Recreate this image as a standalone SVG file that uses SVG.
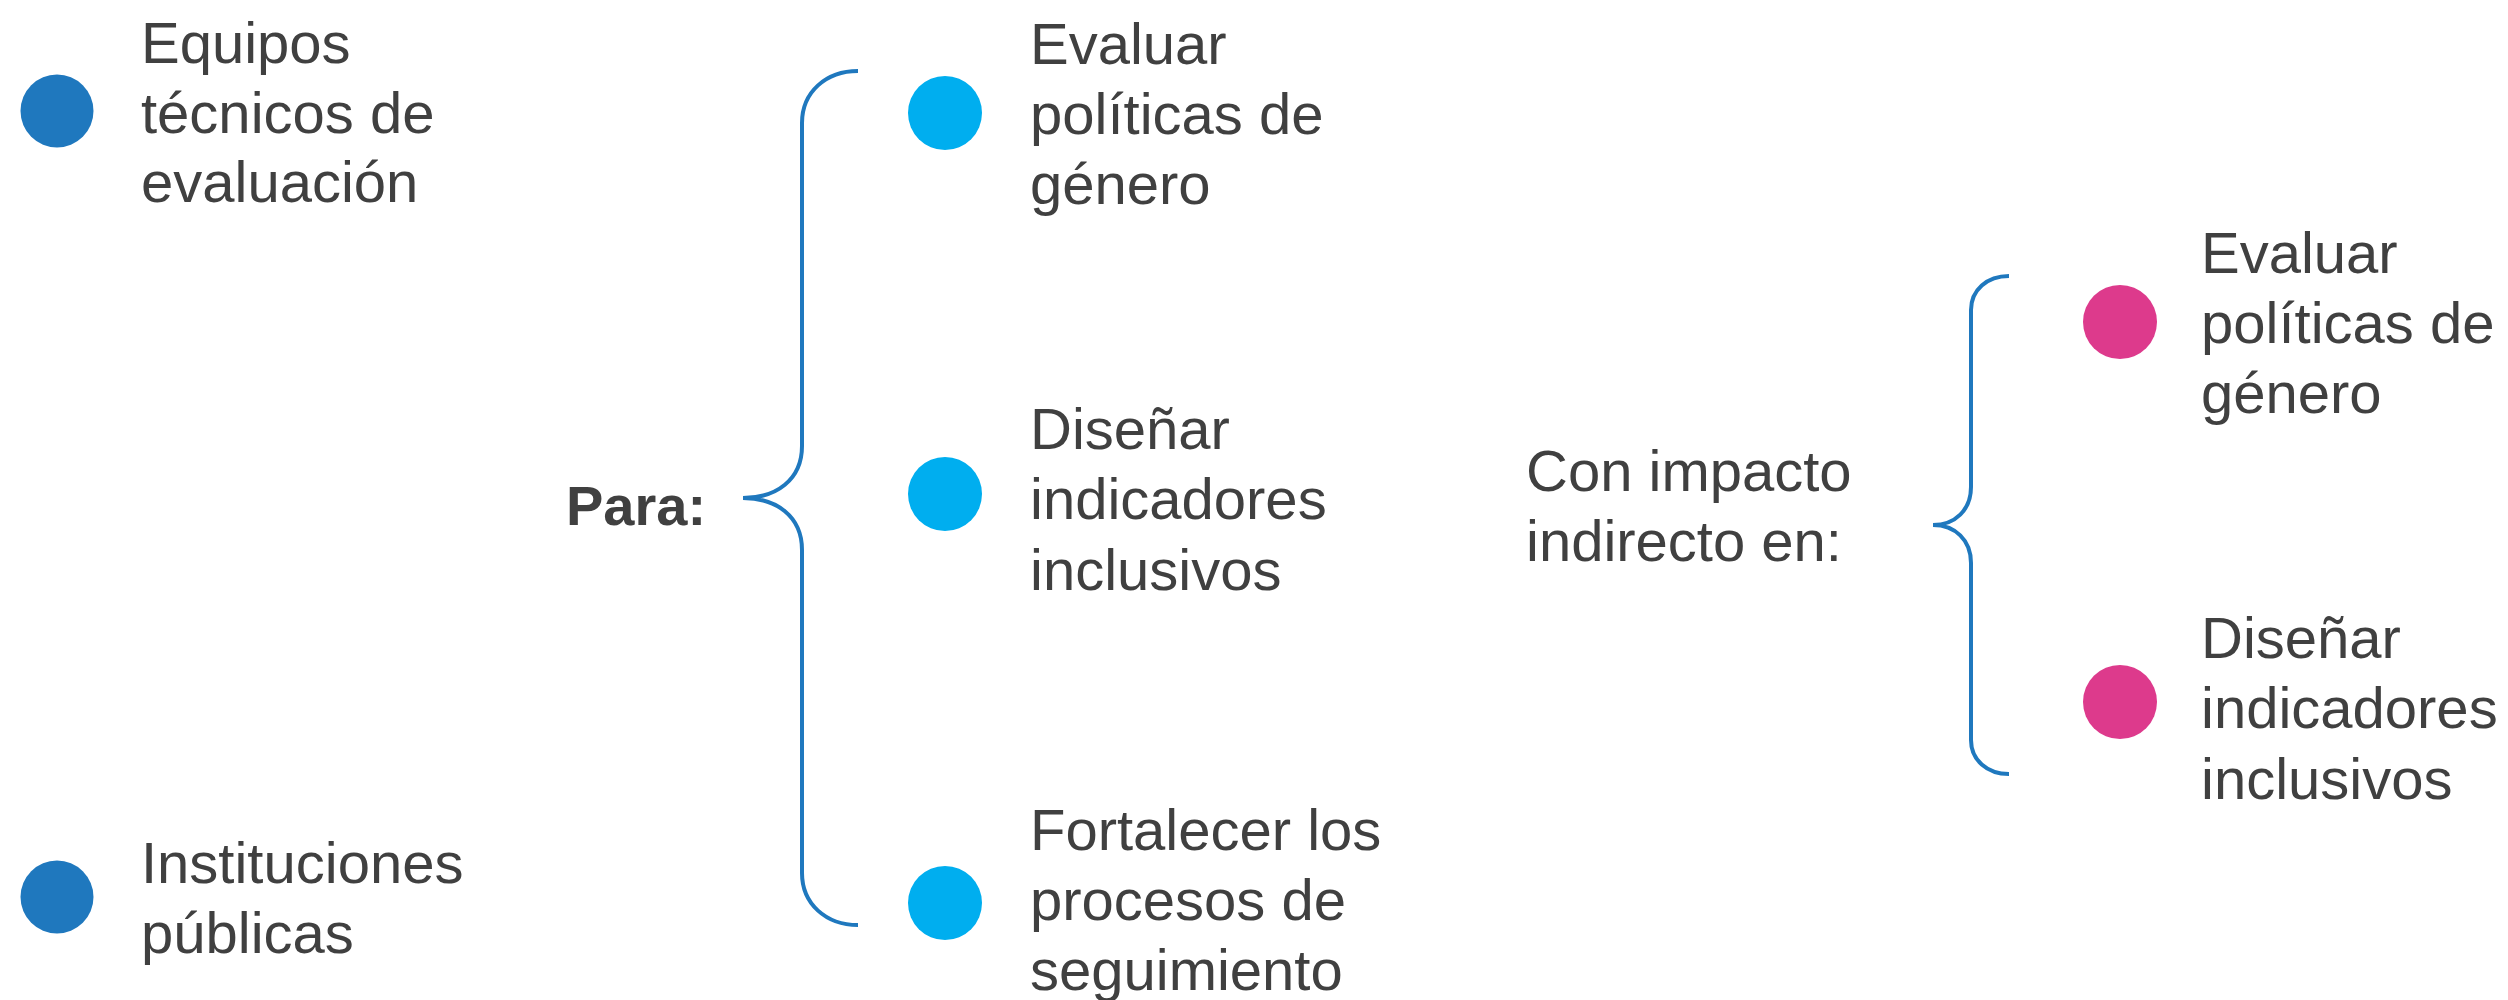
<svg xmlns="http://www.w3.org/2000/svg" width="2508" height="1000" viewBox="0 0 2508 1000">
<style>
.t{font-family:"Liberation Sans",Arial,sans-serif;font-size:58px;fill:#404040}
.b{font-family:"Liberation Sans",Arial,sans-serif;font-size:56px;font-weight:bold;fill:#404040}
.br{fill:none;stroke:#1F78BE;stroke-width:4;stroke-linecap:butt}
.dk{fill:#1F78BE}
.cy{fill:#00AEEF}
.pk{fill:#DD3A8C}
</style>
<rect width="2508" height="1000" fill="#ffffff"/>
<g id="connectors">
<path class="br" d="M858,71 C826,71 802,92 802,123 L802,446 C802,480 776,498 743,498 C776,498 802,516 802,550 L802,873 C802,904 826,925 858,925"/>
<path class="br" d="M2009,276 C1987,276 1971,290 1971,310 L1971,487 C1971,510 1955,525 1933,525 C1955,525 1971,540 1971,563 L1971,740 C1971,760 1987,774 2009,774"/>
</g>
<g id="n-equipos">
<circle class="dk" cx="57" cy="111" r="36.5"/>
<text class="t" x="141"><tspan x="141" y="63">Equipos</tspan><tspan x="141" y="133">técnicos de</tspan><tspan x="141" y="202">evaluación</tspan></text>
</g>
<g id="n-instituciones">
<circle class="dk" cx="57" cy="897" r="36.5"/>
<text class="t" x="141"><tspan x="141" y="883">Instituciones</tspan><tspan x="141" y="953">públicas</tspan></text>
</g>
<g id="n-para">
<text class="b" x="566" y="525">Para:</text>
</g>
<g id="n-evaluar1">
<circle class="cy" cx="945" cy="113" r="37"/>
<text class="t"><tspan x="1030" y="64">Evaluar</tspan><tspan x="1030" y="134">políticas de</tspan><tspan x="1030" y="204">género</tspan></text>
</g>
<g id="n-disenar1">
<circle class="cy" cx="945" cy="494" r="37"/>
<text class="t"><tspan x="1030" y="449">Diseñar</tspan><tspan x="1030" y="519">indicadores</tspan><tspan x="1030" y="590">inclusivos</tspan></text>
</g>
<g id="n-fortalecer">
<circle class="cy" cx="945" cy="903" r="37"/>
<text class="t"><tspan x="1030" y="850">Fortalecer los</tspan><tspan x="1030" y="920">procesos de</tspan><tspan x="1030" y="990">seguimiento</tspan></text>
</g>
<g id="n-impacto">
<text class="t"><tspan x="1526" y="491">Con impacto</tspan><tspan x="1526" y="561">indirecto en:</tspan></text>
</g>
<g id="n-evaluar2">
<circle class="pk" cx="2120" cy="322" r="37"/>
<text class="t"><tspan x="2201" y="273">Evaluar</tspan><tspan x="2201" y="343">políticas de</tspan><tspan x="2201" y="413">género</tspan></text>
</g>
<g id="n-disenar2">
<circle class="pk" cx="2120" cy="702" r="37"/>
<text class="t"><tspan x="2201" y="658">Diseñar</tspan><tspan x="2201" y="728">indicadores</tspan><tspan x="2201" y="799">inclusivos</tspan></text>
</g>
</svg>
